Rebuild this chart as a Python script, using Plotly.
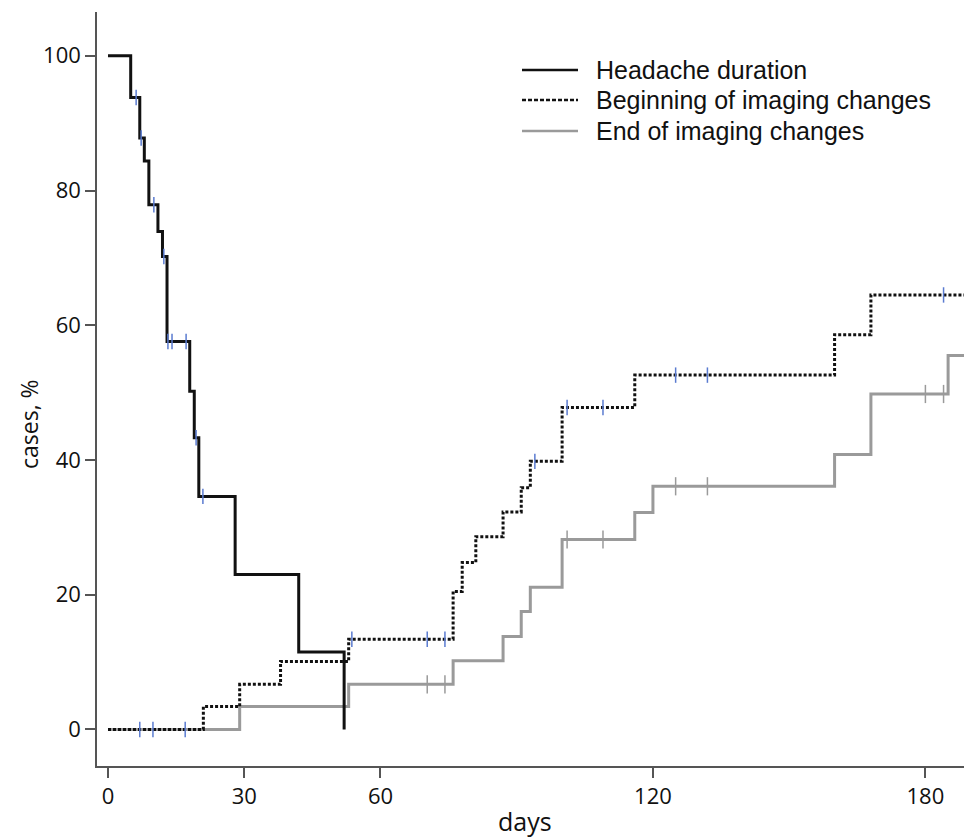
import plotly.graph_objects as go

# ---- data ----
headache_days = [0, 5, 7, 8, 9, 11, 12, 13, 18, 19, 20, 28, 42, 52]
headache_pct = [100, 93.8, 87.8, 84.4, 77.9, 73.9, 70.2, 57.6, 50.2, 43.3, 34.6, 23.0, 11.5, 0]
headache_cens_days = [6.2, 7.3, 10.1, 12.3, 13.2, 14.1, 17.2, 19.4, 20.9]
headache_cens_pct = [93.8, 87.8, 77.9, 70.2, 57.6, 57.6, 57.6, 43.3, 34.6]

begin_days = [0, 21, 29, 38, 53, 76, 78, 81, 87, 91, 93, 100, 116, 160, 168, 188.5]
begin_pct = [0, 3.4, 6.7, 10.1, 13.4, 20.5, 24.8, 28.6, 32.3, 35.9, 39.8, 47.8, 52.6, 58.6, 64.5, 64.5]
begin_cens_days = [7.0, 9.9, 17.0, 53.7, 70.3, 74.2, 94.0, 101.1, 109.0, 125.0, 132.0, 184.0]
begin_cens_pct = [0, 0, 0, 13.4, 13.4, 13.4, 39.8, 47.8, 47.8, 52.6, 52.6, 64.5]

end_days = [0, 29, 53, 76, 87, 91, 93, 100, 116, 120, 160, 168, 185, 188.5]
end_pct = [0, 3.4, 6.7, 10.2, 13.8, 17.5, 21.1, 28.2, 32.2, 36.1, 40.8, 49.8, 55.5, 55.5]
end_cens_days = [70.3, 74.2, 101.1, 109.0, 125.0, 132.0, 180.0, 184.0]
end_cens_pct = [6.7, 6.7, 28.2, 28.2, 36.1, 36.1, 49.8, 49.8]

x_ticks = [0, 30, 60, 120, 180]
y_ticks = [0, 20, 40, 60, 80, 100]

series_names = ["Headache duration", "Beginning of imaging changes", "End of imaging changes"]

BLACK = "#111111"
GRAY = "#9a9a9a"
BLUE = "#5a7bd0"
DASH = "3px,2px"

fig = go.Figure()

# End of imaging changes (drawn first, below)
fig.add_trace(go.Scatter(
    x=end_days, y=end_pct, mode="lines", line_shape="hv",
    line=dict(color=GRAY, width=3), name=series_names[2], showlegend=False))
fig.add_trace(go.Scatter(
    x=end_cens_days, y=end_cens_pct, mode="markers", showlegend=False,
    marker=dict(symbol="line-ns-open", size=13, color=GRAY, line=dict(color=GRAY, width=1.5)),
    hoverinfo="skip"))

# Beginning of imaging changes
fig.add_trace(go.Scatter(
    x=begin_days, y=begin_pct, mode="lines", line_shape="hv",
    line=dict(color=BLACK, width=3, dash=DASH), name=series_names[1], showlegend=False))
fig.add_trace(go.Scatter(
    x=begin_cens_days, y=begin_cens_pct, mode="markers", showlegend=False,
    marker=dict(symbol="line-ns-open", size=11, color=BLUE, line=dict(color=BLUE, width=1.5)),
    hoverinfo="skip"))

# Headache duration
fig.add_trace(go.Scatter(
    x=headache_days, y=headache_pct, mode="lines", line_shape="hv",
    line=dict(color=BLACK, width=3), name=series_names[0], showlegend=False))
fig.add_trace(go.Scatter(
    x=headache_cens_days, y=headache_cens_pct, mode="markers", showlegend=False,
    marker=dict(symbol="line-ns-open", size=11, color=BLUE, line=dict(color=BLUE, width=1.5)),
    hoverinfo="skip"))

axis_common = dict(
    showgrid=False, zeroline=False, showline=True, linecolor="#555555", linewidth=1.5,
    ticks="outside", ticklen=10, tickwidth=1.5, tickcolor="#555555",
    tickfont=dict(family="Open Sans", size=22, color="#111111"), mirror=False,
)

# legend drawn as line samples + text (paper coordinates)
PLOT_L, PLOT_W, PLOT_T, PLOT_H = 97, 867, 12, 754
def px_x(p):
    return (p - PLOT_L) / PLOT_W
def px_y(p):
    return 1 - (p - PLOT_T) / PLOT_H

legend_styles = [
    dict(color=BLACK, width=2.5, dash="solid"),
    dict(color=BLACK, width=2.5, dash="4px,2px"),
    dict(color=GRAY, width=2.5, dash="solid"),
]
legend_rows = [70, 100, 131]
shapes = []
annotations = []
for name, style, row in zip(series_names, legend_styles, legend_rows):
    shapes.append(dict(type="line", xref="paper", yref="paper",
                       x0=px_x(522), x1=px_x(578), y0=px_y(row), y1=px_y(row),
                       line=style))
    annotations.append(dict(text=name, xref="paper", yref="paper",
                            x=px_x(594), y=px_y(row), xanchor="left", yanchor="middle",
                            showarrow=False,
                            font=dict(family="Liberation Sans", size=25, color="#111111")))

annotations += [
    dict(text="days", xref="paper", yref="paper", x=px_x(525), y=0, yshift=-55,
         xanchor="center", yanchor="middle", showarrow=False,
         font=dict(family="Open Sans", size=25, color="#111111")),
    dict(text="cases, %", xref="paper", yref="paper", x=0, xshift=-68, y=px_y(424),
         xanchor="center", yanchor="middle", textangle=-90, showarrow=False,
         font=dict(family="Open Sans", size=23, color="#111111")),
]

fig.update_layout(
    width=964, height=837,
    margin=dict(l=PLOT_L, r=0, t=PLOT_T, b=837 - PLOT_T - PLOT_H),
    paper_bgcolor="white", plot_bgcolor="white",
    xaxis=dict(range=[-2.42, 188.5], tickvals=x_ticks, **axis_common),
    yaxis=dict(range=[-5.42, 106.5], tickvals=y_ticks, **axis_common),
    showlegend=False,
    shapes=shapes,
    annotations=annotations,
)

fig.write_html("out.html")
